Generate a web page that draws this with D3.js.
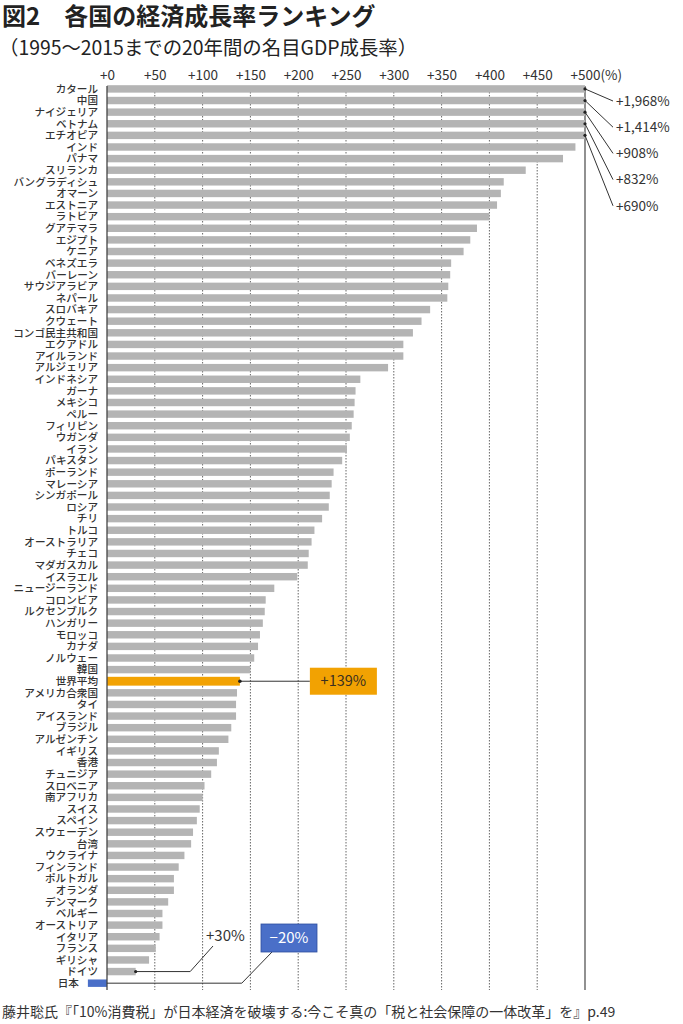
<!DOCTYPE html>
<html>
<head>
<meta charset="utf-8">
<script src="https://cdn.jsdelivr.net/npm/d3@7"></script>
<style>
  body { margin: 0; background: #fff; }
  svg { display: block; font-family: "Noto Sans CJK JP", "Noto Sans", sans-serif; }
</style>
</head>
<body>
<div id="chart"></div>
<script>
// Data, ranked by growth
const countries = [
  "カタール", "中国", "ナイジェリア", "ベトナム", "エチオピア", "インド", "パナマ", "スリランカ",
  "バングラディシュ", "オマーン", "エストニア", "ラトビア", "グアテマラ", "エジプト", "ケニア",
  "ベネズエラ", "バーレーン", "サウジアラビア", "ネパール", "スロバキア", "クウェート",
  "コンゴ民主共和国", "エクアドル", "アイルランド", "アルジェリア", "インドネシア", "ガーナ",
  "メキシコ", "ペルー", "フィリピン", "ウガンダ", "イラン", "パキスタン", "ポーランド",
  "マレーシア", "シンガポール", "ロシア", "チリ", "トルコ", "オーストラリア", "チェコ",
  "マダガスカル", "イスラエル", "ニュージーランド", "コロンビア", "ルクセンブルク", "ハンガリー",
  "モロッコ", "カナダ", "ノルウェー", "韓国", "世界平均", "アメリカ合衆国", "タイ", "アイスランド",
  "ブラジル", "アルゼンチン", "イギリス", "香港", "チュニジア", "スロベニア", "南アフリカ",
  "スイス", "スペイン", "スウェーデン", "台湾", "ウクライナ", "フィンランド", "ポルトガル",
  "オランダ", "デンマーク", "ベルギー", "オーストリア", "イタリア", "フランス", "ギリシャ",
  "ドイツ", "日本"
];
const growth = [
  1968, 1414, 908, 832, 690, 490, 477, 438,
  415, 412, 408, 400, 387, 380, 373,
  360, 359, 357, 356, 338, 329,
  320, 310, 310, 294, 265, 260,
  259, 258, 256, 254, 251, 246, 237,
  235, 233, 232, 225, 217, 214, 211,
  210, 199, 175, 166, 165, 163,
  160, 158, 154, 150, 139, 136, 135, 135,
  130, 127, 117, 115, 109, 102, 100,
  97, 94, 90, 88, 81, 75, 70,
  70, 64, 58, 58, 55, 51, 44,
  30, -20
];
const tickValues = [0, 50, 100, 150, 200, 250, 300, 350, 400, 450, 500];
const worldName = "世界平均";
const japanName = "日本";
const germanyName = "ドイツ";

const data = countries.map((c, i) => ({ name: c, value: growth[i] }));

const W = 683, H = 1024;
const svg = d3.select("#chart").append("svg")
    .attr("width", W)
    .attr("height", H);

// Title
svg.append("text")
    .attr("x", 2).attr("y", 25)
    .attr("font-size", 24).attr("font-weight", 700).attr("fill", "#222")
    .text("図2　各国の経済成長率ランキング");
svg.append("text")
    .attr("x", -1).attr("y", 55)
    .attr("font-size", 19.4).attr("fill", "#222")
    .text("（1995〜2015までの20年間の名目GDP成長率）");

// Scales (bars beyond +500 are cut at the frame)
const xRaw = d3.scaleLinear().domain([0, 500]).range([107, 585]);
const x = v => xRaw(Math.min(v, 500));
const y = d3.scaleBand().domain(countries).range([85.2, 986.9]).paddingInner(0.36);
const cy = d => y(d) + y.bandwidth() / 2;

const gridTop = 86, gridBottom = 990;

// Dotted gridlines
svg.append("g")
  .selectAll("line")
  .data(tickValues.filter(t => t > 0 && t < 500))
  .join("line")
    .attr("x1", d => xRaw(d)).attr("x2", d => xRaw(d))
    .attr("y1", gridTop).attr("y2", gridBottom)
    .attr("stroke", "#666").attr("stroke-width", 1)
    .attr("stroke-dasharray", "1.5,1.5");

// +500 frame line
svg.append("line")
    .attr("x1", xRaw(500)).attr("x2", xRaw(500))
    .attr("y1", gridTop).attr("y2", gridBottom)
    .attr("stroke", "#555").attr("stroke-width", 1.3);

// Top axis labels
const axis = svg.append("g")
    .attr("transform", `translate(0, ${gridTop})`)
    .call(d3.axisTop(xRaw).tickValues(tickValues).tickSize(0).tickPadding(6)
      .tickFormat(d => "+" + d));
axis.select(".domain").remove();
axis.selectAll("text")
    .attr("font-size", 13.5).attr("fill", "#333")
    .attr("font-family", "\"Noto Sans CJK JP\", sans-serif");
const lastTick = axis.selectAll(".tick").filter(d => d === 500);
const lastW = lastTick.select("text").node().getComputedTextLength();
lastTick.append("text")
    .attr("x", lastW / 2).attr("y", -6)
    .attr("text-anchor", "start")
    .attr("font-size", 13.5).attr("fill", "#333")
    .attr("font-family", "\"Noto Sans CJK JP\", sans-serif")
    .text("(%)");

// Bars
const barColor = d => d.name === worldName ? "#f2a202" : d.name === japanName ? "#4a6fc8" : "#b4b4b4";
svg.append("g")
  .selectAll("rect")
  .data(data)
  .join("rect")
    .attr("x", d => x(Math.min(0, d.value)))
    .attr("y", d => d.name === worldName ? y(d.name) - 0.7 : y(d.name))
    .attr("width", d => Math.abs(x(d.value) - x(0)))
    .attr("height", d => d.name === worldName ? y.bandwidth() + 1.4 : y.bandwidth())
    .attr("fill", barColor);

// Zero axis line
svg.append("line")
    .attr("x1", x(0)).attr("x2", x(0))
    .attr("y1", gridTop).attr("y2", gridBottom)
    .attr("stroke", "#444").attr("stroke-width", 1.3);

// Country labels (Japan sits left of its negative bar)
svg.append("g")
  .selectAll("text")
  .data(data)
  .join("text")
    .attr("x", d => d.value < 0 ? x(d.value) - 9 : 98)
    .attr("y", d => cy(d.name))
    .attr("dy", "0.36em")
    .attr("text-anchor", "end")
    .attr("font-size", 10.6)
    .attr("font-weight", 500)
    .attr("fill", "#333")
    .text(d => d.name);

// Off-scale bars: leaders to the real values
const over = data.filter(d => d.value > 500);
const ann = svg.append("g");
over.forEach((d, i) => {
  const x0 = x(d.value), y0 = cy(d.name);
  const ly = 101 + i * 26.2;
  ann.append("line")
      .attr("x1", x0).attr("y1", y0)
      .attr("x2", x0 + 28).attr("y2", ly)
      .attr("stroke", "#333").attr("stroke-width", 1);
  ann.append("circle").attr("cx", x0).attr("cy", y0).attr("r", 1.6).attr("fill", "#222");
  ann.append("text")
      .attr("x", x0 + 31).attr("y", ly)
      .attr("dy", "0.36em")
      .attr("font-size", 13.5).attr("fill", "#333")
      .text("+" + d3.format(",")(d.value) + "%");
});

// World average callout
const world = data.find(d => d.name === worldName);
const wx = x(world.value), wy = cy(world.name);
ann.append("line")
    .attr("x1", wx).attr("y1", wy).attr("x2", wx + 70).attr("y2", wy)
    .attr("stroke", "#333").attr("stroke-width", 1);
ann.append("circle").attr("cx", wx).attr("cy", wy).attr("r", 1.8).attr("fill", "#222");
ann.append("rect")
    .attr("x", wx + 70).attr("y", wy - 13.5)
    .attr("width", 67).attr("height", 27)
    .attr("fill", "#f2a202");
ann.append("text")
    .attr("x", wx + 70 + 33.5).attr("y", wy)
    .attr("dy", "0.36em").attr("text-anchor", "middle")
    .attr("font-size", 14.5).attr("fill", "#3a3020")
    .text("+" + world.value + "%");

// Germany callout
const de = data.find(d => d.name === germanyName);
const dx = x(de.value), dy = cy(de.name);
ann.append("polyline")
    .attr("points", [[dx, dy], [xRaw(87), dy], [213, 946]].map(p => p.join(",")).join(" "))
    .attr("fill", "none").attr("stroke", "#333").attr("stroke-width", 1);
ann.append("circle").attr("cx", dx).attr("cy", dy).attr("r", 1.6).attr("fill", "#222");
ann.append("text")
    .attr("x", 206).attr("y", 936)
    .attr("dy", "0.36em")
    .attr("font-size", 15).attr("fill", "#333")
    .text("+" + de.value + "%");

// Japan callout
const jp = data.find(d => d.name === japanName);
const jy = cy(jp.name);
ann.append("polyline")
    .attr("points", [[x(0), jy], [xRaw(141), jy], [272, 952]].map(p => p.join(",")).join(" "))
    .attr("fill", "none").attr("stroke", "#333").attr("stroke-width", 1);
ann.append("rect")
    .attr("x", 261).attr("y", 924)
    .attr("width", 56).attr("height", 28)
    .attr("fill", "#4a6fc8").attr("stroke", "#2f4f9e").attr("stroke-width", 0.8);
ann.append("text")
    .attr("x", 289).attr("y", 938)
    .attr("dy", "0.36em").attr("text-anchor", "middle")
    .attr("font-size", 15).attr("fill", "#fff")
    .text("−" + Math.abs(jp.value) + "%");

// Source
svg.append("text")
    .attr("x", 2).attr("y", 1017)
    .attr("font-size", 14).attr("fill", "#333")
    .text("藤井聡氏『「10%消費税」が日本経済を破壊する:今こそ真の「税と社会保障の一体改革」を』p.49");
</script>
</body>
</html>
